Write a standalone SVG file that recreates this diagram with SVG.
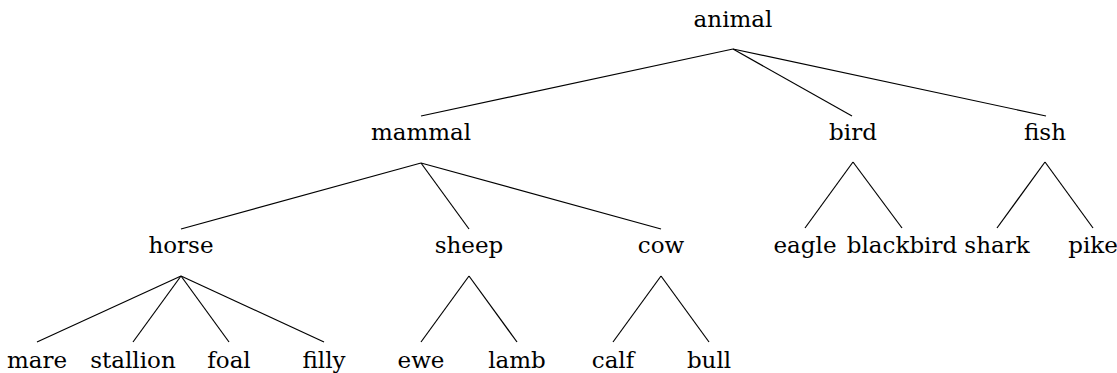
<svg xmlns="http://www.w3.org/2000/svg" width="1117" height="373" viewBox="0 0 1117 373">
<style>
.n text{font-family:"DejaVu Serif","Liberation Serif",serif;font-size:23px;fill:#000;text-anchor:middle}
.e line{stroke:#000;stroke-width:1.2;fill:none}
</style>
<rect width="1117" height="373" fill="#fff"/>
<g class="e" id="connectors">
<line x1="733" y1="49" x2="421" y2="116"/>
<line x1="733" y1="49" x2="852" y2="116"/>
<line x1="733" y1="49" x2="1046" y2="116"/>
<line x1="421" y1="163" x2="181" y2="229"/>
<line x1="421" y1="163" x2="469" y2="229"/>
<line x1="421" y1="163" x2="661" y2="229"/>
<line x1="853" y1="162" x2="805" y2="228"/>
<line x1="853" y1="162" x2="902" y2="228"/>
<line x1="1045" y1="162" x2="997" y2="228"/>
<line x1="1045" y1="162" x2="1093" y2="228"/>
<line x1="181" y1="276" x2="37" y2="342"/>
<line x1="181" y1="276" x2="133" y2="342"/>
<line x1="181" y1="276" x2="229" y2="342"/>
<line x1="181" y1="276" x2="324" y2="342"/>
<line x1="469" y1="276" x2="421" y2="342"/>
<line x1="469" y1="276" x2="517" y2="342"/>
<line x1="661" y1="276" x2="613" y2="342"/>
<line x1="661" y1="276" x2="709" y2="342"/>
</g>
<g class="n">
<g id="animal"><text x="733" y="27">animal</text></g>
<g id="mammal"><text x="421" y="140">mammal</text></g>
<g id="bird"><text x="853" y="140">bird</text></g>
<g id="fish"><text x="1045" y="140">fish</text></g>
<g id="horse"><text x="181" y="253">horse</text></g>
<g id="sheep"><text x="469" y="253">sheep</text></g>
<g id="cow"><text x="661" y="253">cow</text></g>
<g id="eagle"><text x="805" y="253">eagle</text></g>
<g id="blackbird"><text x="902" y="253">blackbird</text></g>
<g id="shark"><text x="997" y="253">shark</text></g>
<g id="pike"><text x="1093" y="253">pike</text></g>
<g id="mare"><text x="37" y="368">mare</text></g>
<g id="stallion"><text x="133" y="368">stallion</text></g>
<g id="foal"><text x="229" y="368">foal</text></g>
<g id="filly"><text x="324" y="368">filly</text></g>
<g id="ewe"><text x="421" y="368">ewe</text></g>
<g id="lamb"><text x="517" y="368">lamb</text></g>
<g id="calf"><text x="613" y="368">calf</text></g>
<g id="bull"><text x="709" y="368">bull</text></g>
</g>
</svg>
